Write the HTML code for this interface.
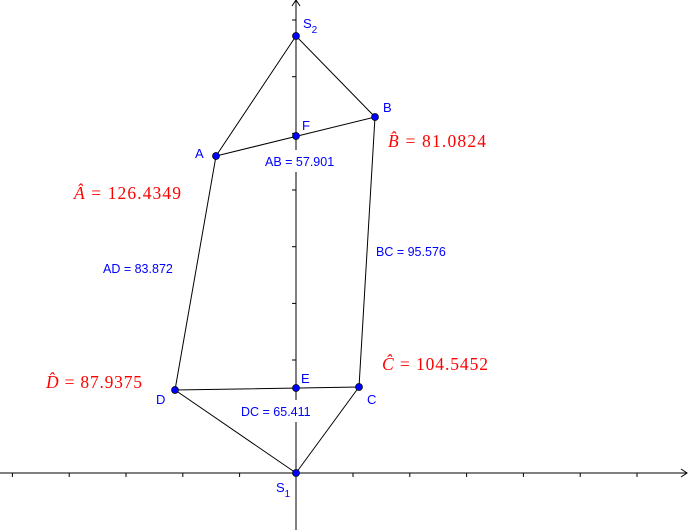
<!DOCTYPE html>
<html><head><style>body{margin:0;background:#fff}svg{display:block}</style></head><body>
<svg width="688" height="530" xmlns="http://www.w3.org/2000/svg" font-family="Liberation Sans, sans-serif">
<rect width="688" height="530" fill="#fff"/>
<g stroke="#000" stroke-width="1">
<line x1="0" y1="473" x2="687" y2="473"/>
<polyline points="681,469 687,473 681,477" fill="none"/>
<line x1="296" y1="0" x2="296" y2="530"/>
<polyline points="292,6 296,0 300,6" fill="none"/>
<g>
<line x1="12.4" y1="473" x2="12.4" y2="477"/><line x1="69.2" y1="473" x2="69.2" y2="477"/>
<line x1="126" y1="473" x2="126" y2="477"/><line x1="182.8" y1="473" x2="182.8" y2="477"/>
<line x1="239.6" y1="473" x2="239.6" y2="477"/><line x1="353" y1="473" x2="353" y2="477"/>
<line x1="409.8" y1="473" x2="409.8" y2="477"/><line x1="466.6" y1="473" x2="466.6" y2="477"/>
<line x1="523.4" y1="473" x2="523.4" y2="477"/><line x1="580.2" y1="473" x2="580.2" y2="477"/>
<line x1="637" y1="473" x2="637" y2="477"/>
<line x1="292" y1="20" x2="296" y2="20"/><line x1="292" y1="76.7" x2="296" y2="76.7"/>
<line x1="292" y1="133.4" x2="296" y2="133.4"/><line x1="292" y1="190" x2="296" y2="190"/>
<line x1="292" y1="246.7" x2="296" y2="246.7"/><line x1="292" y1="303.4" x2="296" y2="303.4"/>
<line x1="292" y1="360" x2="296" y2="360"/><line x1="292" y1="416.7" x2="296" y2="416.7"/>
</g>
<polygon points="216,156 375,117 359,387 175,390" fill="none"/>
<polyline points="216,156 296,36 375,117" fill="none"/>
<polyline points="175,390 296,473 359,387" fill="none"/>
</g>
<rect x="262" y="150" width="86" height="22" fill="#fff"/>
<rect x="238" y="400" width="88" height="22" fill="#fff"/>
<g fill="#0000ff" stroke="#000" stroke-width="0.7">
<circle cx="296" cy="36" r="3.5"/><circle cx="375" cy="117" r="3.5"/><circle cx="296" cy="136" r="3.5"/>
<circle cx="216" cy="156" r="3.5"/><circle cx="175" cy="390" r="3.5"/><circle cx="296" cy="388" r="3.5"/>
<circle cx="359" cy="387" r="3.5"/><circle cx="296" cy="473" r="3.5"/>
</g>
<g fill="#0000ff" font-size="13">
<text x="303" y="28">S<tspan font-size="10" dy="5">2</tspan></text>
<text x="383" y="112">B</text>
<text x="302" y="130">F</text>
<text x="195" y="158">A</text>
<text x="156" y="404">D</text>
<text x="301" y="383">E</text>
<text x="367" y="404">C</text>
<text x="276" y="492">S<tspan font-size="10" dy="5">1</tspan></text>
<text x="265" y="166" font-size="12.5">AB = 57.901</text>
<text x="241" y="416" font-size="12.5">DC = 65.411</text>
<text x="376" y="256" font-size="12.5">BC = 95.576</text>
<text x="103" y="273" font-size="12.5">AD = 83.872</text>
</g>
<g fill="#ff0000" font-family="Liberation Serif, serif" font-size="17.5">
<text x="388" y="147" textLength="98" lengthAdjust="spacing"><tspan font-style="italic">B̂</tspan> = 81.0824</text>
<text x="74" y="199" textLength="107" lengthAdjust="spacing"><tspan font-style="italic">Â</tspan> = 126.4349</text>
<text x="382" y="370" textLength="106" lengthAdjust="spacing"><tspan font-style="italic">Ĉ</tspan> = 104.5452</text>
<text x="46" y="388" textLength="96" lengthAdjust="spacing"><tspan font-style="italic">D̂</tspan> = 87.9375</text>
</g>
</svg>
</body></html>
